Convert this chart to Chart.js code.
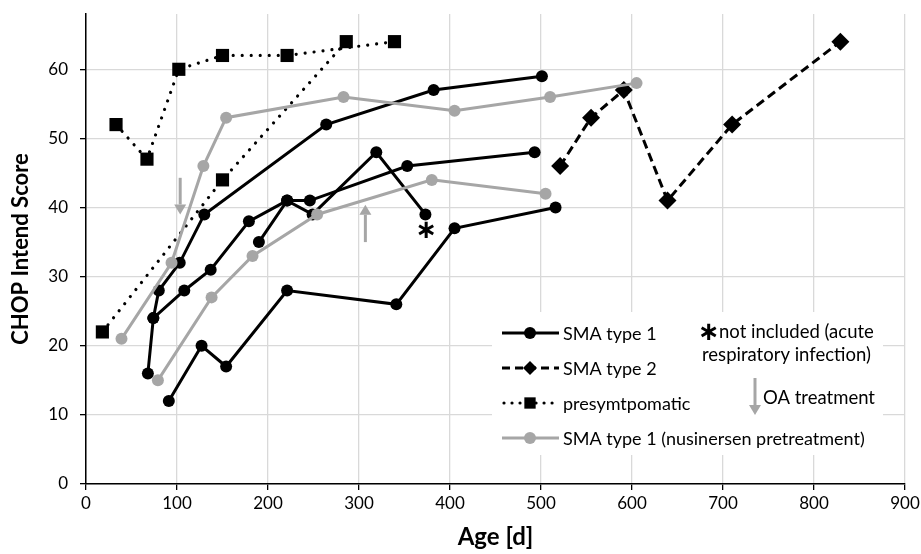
<!DOCTYPE html>
<html>
<head>
<meta charset="utf-8">
<script src="https://cdn.jsdelivr.net/npm/chart.js@4/dist/chart.umd.min.js"></script>
<style>
  html, body { margin: 0; padding: 0; background: #fff; }
  #wrap { width: 921px; height: 554px; position: relative; }
</style>
</head>
<body>
<div id="wrap"><canvas id="c" width="921" height="554"></canvas></div>
<script>
// ---------- data ----------
const xTicks = [0, 100, 200, 300, 400, 500, 600, 700, 800, 900];
const yTicks = [0, 10, 20, 30, 40, 50, 60];

// SMA type 1 patients
const sma1A_age   = [68, 74, 80, 103, 130, 264, 382, 501];
const sma1A_score = [16, 24, 28, 32, 39, 52, 57, 59];
const sma1B_age   = [74, 108, 137, 179, 221, 246, 353, 493];
const sma1B_score = [24, 28, 31, 38, 41, 41, 46, 48];
const sma1C_age   = [190, 221, 249, 319, 373];
const sma1C_score = [35, 41, 39, 48, 39];
const sma1D_age   = [91, 127, 154, 221, 341, 405, 516];
const sma1D_score = [12, 20, 17, 28, 26, 37, 40];

// SMA type 2 patient
const sma2_age   = [521, 555, 591, 639, 710, 829];
const sma2_score = [46, 53, 57, 41, 52, 64];

// presymptomatic patients
const preA_age   = [33, 67, 102, 150, 221, 339];
const preA_score = [52, 47, 60, 62, 62, 64];
const preB_age   = [18, 150, 286];
const preB_score = [22, 44, 64];

// SMA type 1 with nusinersen pretreatment
const nusA_age   = [39, 94, 129, 154, 283, 405, 510, 605];
const nusA_score = [21, 32, 46, 53, 56, 54, 56, 58];
const nusB_age   = [79, 138, 183, 254, 380, 505];
const nusB_score = [15, 27, 33, 39, 44, 42];

// annotations: OA treatment arrows [age, fromScore, toScore], asterisk [age, score]
const oaArrows = [[103.5, 44.3, 39.0], [307, 35.0, 40.4]];
const notIncluded = [[374, 36.6]];

const legendLabels = ['SMA type 1', 'SMA type 2', 'presymtpomatic', 'SMA type 1 (nusinersen pretreatment)'];
const noteLines = ['not included (acute', 'respiratory infection)'];
const oaLabel = 'OA treatment';

// ---------- styles ----------
const BLACK = '#000000';
const GRAY = '#A6A6A6';
const FONT = 'Lato, "Open Sans", sans-serif';

const pts = (xs, ys) => xs.map((x, i) => ({ x: x, y: ys[i] }));

const styles = {
  sma1: { borderColor: BLACK, backgroundColor: BLACK, borderWidth: 3, pointStyle: 'circle', pointRadius: 6, borderDash: [] , borderCapStyle: 'butt'},
  sma2: { borderColor: BLACK, backgroundColor: BLACK, borderWidth: 3, pointStyle: 'rectRot', pointRadius: 9, borderDash: [9, 5], borderCapStyle: 'butt'},
  pre:  { borderColor: BLACK, backgroundColor: BLACK, borderWidth: 3.2, pointStyle: 'rect', pointRadius: 9.3, borderDash: [0.01, 9], borderCapStyle: 'round'},
  nus:  { borderColor: GRAY, backgroundColor: GRAY, borderWidth: 3, pointStyle: 'circle', pointRadius: 6, borderDash: [], borderCapStyle: 'butt'}
};

function ds(label, kind, xs, ys) {
  const s = styles[kind];
  return {
    label: label,
    data: pts(xs, ys),
    showLine: true,
    tension: 0,
    borderColor: s.borderColor,
    backgroundColor: s.backgroundColor,
    borderWidth: s.borderWidth,
    borderDash: s.borderDash,
    borderCapStyle: s.borderCapStyle,
    pointStyle: s.pointStyle,
    pointRadius: s.pointRadius,
    pointHoverRadius: s.pointRadius,
    pointBorderWidth: 0,
    pointBackgroundColor: s.backgroundColor,
    pointBorderColor: s.backgroundColor
  };
}

const datasets = [
  ds('SMA type 1', 'sma1', sma1A_age, sma1A_score),
  ds('SMA type 1', 'sma1', sma1B_age, sma1B_score),
  ds('SMA type 1', 'sma1', sma1C_age, sma1C_score),
  ds('SMA type 1', 'sma1', sma1D_age, sma1D_score),
  ds('SMA type 2', 'sma2', sma2_age, sma2_score),
  ds('presymtpomatic', 'pre', preA_age, preA_score),
  ds('presymtpomatic', 'pre', preB_age, preB_score),
  ds('SMA type 1 (nusinersen pretreatment)', 'nus', nusA_age, nusA_score),
  ds('SMA type 1 (nusinersen pretreatment)', 'nus', nusB_age, nusB_score)
];
// Excel-like stacking: later series on top
datasets.forEach((d, i) => { d.order = datasets.length - i; });

function drawArrow(ctx, x, y0, y1, color) {
  const dir = y1 > y0 ? 1 : -1;
  const head = 10;
  ctx.save();
  ctx.strokeStyle = color; ctx.fillStyle = color;
  ctx.lineWidth = 3;
  ctx.beginPath();
  ctx.moveTo(x, y0);
  ctx.lineTo(x, y1 - dir * head);
  ctx.stroke();
  ctx.beginPath();
  ctx.moveTo(x - 6, y1 - dir * head);
  ctx.lineTo(x + 6, y1 - dir * head);
  ctx.lineTo(x, y1);
  ctx.closePath();
  ctx.fill();
  ctx.restore();
}

const annotPlugin = {
  id: 'annot',
  afterDatasetsDraw(chart) {
    const ctx = chart.ctx;
    const xs = chart.scales.x, ys = chart.scales.y;
    oaArrows.forEach(a => {
      drawArrow(ctx, xs.getPixelForValue(a[0]), ys.getPixelForValue(a[1]), ys.getPixelForValue(a[2]), GRAY);
    });
    ctx.save();
    ctx.fillStyle = BLACK;
    ctx.font = 'bold 26px "DejaVu Sans"';
    ctx.textAlign = 'center';
    ctx.textBaseline = 'middle';
    notIncluded.forEach(p => {
      ctx.fillText('\u2217', xs.getPixelForValue(p[0]), ys.getPixelForValue(p[1]));
    });
    ctx.restore();
  },
  afterDraw(chart) {
    const ctx = chart.ctx;
    // legend box
    ctx.save();
    ctx.fillStyle = '#ffffff';
    ctx.fillRect(492, 312, 391, 143);
    const rows = [333, 368, 403, 438];
    const kinds = ['sma1', 'sma2', 'pre', 'nus'];
    kinds.forEach((k, i) => {
      const s = styles[k];
      const y = rows[i];
      ctx.save();
      ctx.strokeStyle = s.borderColor;
      ctx.fillStyle = s.backgroundColor;
      ctx.lineWidth = s.borderWidth;
      ctx.lineCap = s.borderCapStyle;
      ctx.setLineDash(k === 'sma2' ? [8, 5] : (k === 'pre' ? [0.01, 8] : []));
      ctx.beginPath();
      ctx.moveTo(k === 'pre' ? 504 : 502, y);
      ctx.lineTo(559, y);
      ctx.stroke();
      ctx.setLineDash([]);
      const r = k === 'sma2' ? 7 : (k === 'pre' ? 8 : 6);
      Chart.helpers.drawPoint(ctx, { pointStyle: s.pointStyle, radius: r, borderWidth: 0, rotation: 0 }, 530, y);
      ctx.restore();
      ctx.fillStyle = '#000';
      ctx.font = '18px ' + FONT;
      ctx.textAlign = 'left';
      ctx.textBaseline = 'middle';
      ctx.fillText(legendLabels[i], 563, y + 1);
    });
    // notes
    ctx.fillStyle = '#000';
    ctx.font = 'bold 26px "DejaVu Sans"';
    ctx.textAlign = 'center';
    ctx.textBaseline = 'middle';
    ctx.fillText('\u2217', 709, 333);
    ctx.font = '18.5px ' + FONT;
    ctx.textAlign = 'left';
    ctx.fillText(noteLines[0], 719, 332);
    ctx.fillText(noteLines[1], 702, 355);
    drawArrow(ctx, 755, 378, 415, GRAY);
    ctx.fillText(oaLabel, 763, 398);
    ctx.restore();
  }
};

new Chart(document.getElementById('c'), {
  type: 'scatter',
  data: { datasets: datasets },
  options: {
    responsive: false,
    animation: false,
    events: [],
    layout: { padding: { top: 14, right: 16, left: 0, bottom: 0 } },
    plugins: { legend: { display: false }, tooltip: { enabled: false } },
    scales: {
      x: {
        type: 'linear', min: 0, max: 900,
        afterBuildTicks: ax => { ax.ticks = xTicks.map(v => ({ value: v })); },
        afterFit: s => { s.height = 70; s.paddingLeft = 0; s.paddingRight = 0; },
        grid: { color: '#D9D9D9', lineWidth: 1.3, tickLength: 6, tickColor: BLACK, tickWidth: 1.3 },
        border: { color: BLACK, width: 1.5 },
        ticks: { color: '#000', font: { family: FONT, size: 17 }, padding: 3, maxRotation: 0 },
        title: { display: true, text: 'Age [d]', color: '#000', font: { family: FONT, size: 24, weight: 'bold' }, padding: { top: 0, bottom: 2.6 } }
      },
      y: {
        type: 'linear', min: 0, max: 68,
        afterBuildTicks: ax => { ax.ticks = yTicks.map(v => ({ value: v })); },
        afterFit: s => { s.width = 86; s.paddingTop = 0; s.paddingBottom = 0; },
        grid: { color: '#D9D9D9', lineWidth: 1.3, tickLength: 6, tickColor: BLACK, tickWidth: 1.3 },
        border: { color: BLACK, width: 1.5 },
        ticks: { color: '#000', font: { family: FONT, size: 17 }, padding: 12 },
        title: { display: true, text: 'CHOP Intend Score', color: '#000', font: { family: FONT, size: 22, weight: 'bold' }, padding: { top: 8, bottom: 0 } }
      }
    }
  },
  plugins: [annotPlugin]
});
</script>
</body>
</html>
